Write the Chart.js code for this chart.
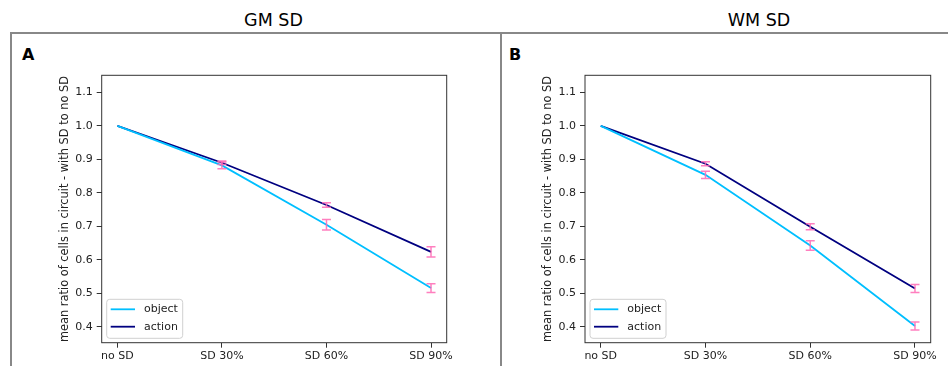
<!DOCTYPE html>
<html><head><meta charset="utf-8">
<script src="https://cdn.jsdelivr.net/npm/chart.js@4.4.1/dist/chart.umd.min.js"></script>
<style>
html,body{margin:0;padding:0;background:#fff;width:948px;height:366px;overflow:hidden;font-family:"DejaVu Sans",sans-serif;}
.t{position:absolute;width:200px;text-align:center;font-size:17.5px;line-height:17.5px;color:#000;white-space:nowrap;}
.l{position:absolute;font-size:16px;font-weight:bold;line-height:16px;color:#000;}
.f{position:absolute;background:#888;}
canvas{position:absolute;}
</style></head><body>
<div class="f" style="left:10px;top:32px;width:938px;height:2px"></div>
<div class="f" style="left:10px;top:32px;width:2px;height:334px"></div>
<div class="f" style="left:500px;top:32px;width:2px;height:334px"></div>
<div class="t" style="left:173.5px;top:12px">GM SD</div>
<div class="t" style="left:659px;top:12px">WM SD</div>
<div class="l" style="left:22px;top:46.5px">A</div>
<div class="l" style="left:509px;top:46.5px">B</div>
<canvas id="c1" width="420" height="306" style="left:50px;top:60px"></canvas>
<canvas id="c2" width="415" height="306" style="left:533px;top:60px"></canvas>
<script>
// ---- data ----
const categories = ["no SD", "SD 30%", "SD 60%", "SD 90%"];
const seriesNames = ["object", "action"];
const yTicks = [0.4, 0.5, 0.6, 0.7, 0.8, 0.9, 1.0, 1.1];
const yLabelText = "mean ratio of cells in circuit - with SD to no SD";

const gmObject    = [1.0, 0.882, 0.705, 0.516];
const gmObjectErr = [null, 0.010, 0.016, 0.013];
const gmAction    = [1.0, 0.890, 0.764, 0.624];
const gmActionErr = [null, 0.005, 0.007, 0.015];

const wmObject    = [1.0, 0.854, 0.643, 0.403];
const wmObjectErr = [null, 0.011, 0.014, 0.012];
const wmAction    = [1.0, 0.887, 0.699, 0.515];
const wmActionErr = [null, 0.006, 0.009, 0.012];

// ---- style ----
const FONT = "DejaVu Sans";
const colObject = "#00bfff";
const colAction = "#000080";
const colErr = "rgba(255,105,180,0.85)";

const extras = {
  id: 'extras',
  afterDatasetsDraw(chart, args, opts) {
    const {ctx, chartArea: a, scales: {x, y}} = chart;
    ctx.save();
    // error bars
    ctx.strokeStyle = colErr;
    ctx.lineWidth = 1.5;
    chart.data.datasets.forEach((ds, i) => {
      const errs = opts.errors[i];
      ds.data.forEach((p, j) => {
        const e = errs[j];
        if (e == null) return;
        const px = x.getPixelForValue(p.x);
        const y1 = y.getPixelForValue(p.y - e);
        const y2 = y.getPixelForValue(p.y + e);
        ctx.beginPath();
        ctx.moveTo(px, y1); ctx.lineTo(px, y2);
        ctx.moveTo(px - 4.5, y1); ctx.lineTo(px + 4.5, y1);
        ctx.moveTo(px - 4.5, y2); ctx.lineTo(px + 4.5, y2);
        ctx.stroke();
      });
    });
    // spines
    ctx.strokeStyle = "#333";
    ctx.lineWidth = 1;
    ctx.strokeRect(a.left, a.top, a.right - a.left, a.bottom - a.top);
    ctx.restore();
  },
  afterDraw(chart) {
    const {ctx, chartArea: a} = chart;
    const bx = a.left + 5, by = a.bottom - 4.4 - 39, bw = 76, bh = 39;
    ctx.save();
    ctx.fillStyle = "rgba(255,255,255,0.8)";
    ctx.strokeStyle = "#d0d0d0";
    ctx.lineWidth = 1;
    ctx.beginPath();
    ctx.roundRect(bx, by, bw, bh, 3);
    ctx.fill(); ctx.stroke();
    ctx.font = "11px '" + FONT + "'";
    ctx.textBaseline = "middle";
    ctx.textAlign = "left";
    chart.data.datasets.forEach((ds, i) => {
      const ry = by + 10 + i * 17.4;
      ctx.strokeStyle = ds.borderColor;
      ctx.lineWidth = 1.8;
      ctx.beginPath();
      ctx.moveTo(bx + 4, ry); ctx.lineTo(bx + 28.3, ry);
      ctx.stroke();
      ctx.fillStyle = "#222";
      ctx.fillText(ds.label, bx + 37.3, ry);
    });
    ctx.restore();
  }
};

function makeChart(id, objVals, objErr, actVals, actErr, yWidth, padRight) {
  const toPts = vals => categories.map((c, i) => ({x: i, y: vals[i]}));
  return new Chart(document.getElementById(id), {
    type: 'line',
    data: {
      datasets: [
        {label: seriesNames[0], data: toPts(objVals), borderColor: colObject, backgroundColor: colObject,
         borderWidth: 1.8, pointRadius: 0, tension: 0, fill: false},
        {label: seriesNames[1], data: toPts(actVals), borderColor: colAction, backgroundColor: colAction,
         borderWidth: 1.8, pointRadius: 0, tension: 0, fill: false}
      ]
    },
    options: {
      responsive: false,
      animation: false,
      devicePixelRatio: 1,
      layout: {padding: {left: 4.2, right: padRight, top: 15.3, bottom: 0}},
      plugins: {
        legend: {display: false},
        tooltip: {enabled: false},
        extras: {errors: [objErr, actErr]}
      },
      scales: {
        x: {
          type: 'linear', min: -0.15, max: 3.15,
          afterBuildTicks: s => { s.ticks = categories.map((c, i) => ({value: i})); },
          afterFit: s => { s.height = 23.3; },
          ticks: {callback: v => categories[v], color: "#222", font: {family: FONT, size: 11},
                  padding: 2, maxRotation: 0, autoSkip: false},
          grid: {display: true, drawOnChartArea: false, drawTicks: true, tickLength: 5, tickColor: "#333", tickWidth: 1},
          border: {display: false}
        },
        y: {
          type: 'linear', min: 0.353, max: 1.151,
          afterBuildTicks: s => { s.ticks = yTicks.map(v => ({value: v})); },
          afterFit: s => { s.width = yWidth; },
          ticks: {callback: v => v.toFixed(1), color: "#222", font: {family: FONT, size: 11}, padding: 4},
          grid: {display: true, drawOnChartArea: false, drawTicks: true, tickLength: 5, tickColor: "#333", tickWidth: 1},
          border: {display: false},
          title: {display: true, text: yLabelText, color: "#222", font: {family: FONT, size: 11.4}, padding: {top: 4, bottom: 4}}
        }
      }
    },
    plugins: [extras]
  });
}

makeChart('c1', gmObject, gmObjectErr, gmAction, gmActionErr, 47.5, 23.3);
makeChart('c2', wmObject, wmObjectErr, wmAction, wmActionErr, 47.8, 17.3);
</script>
</body></html>
